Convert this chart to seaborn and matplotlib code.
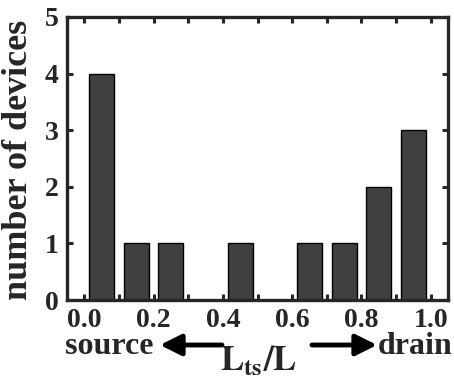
import matplotlib
matplotlib.use("Agg")
import matplotlib.pyplot as plt
import seaborn as sns
import numpy as np
from matplotlib.ticker import MultipleLocator

positions = [0.05, 0.15, 0.25, 0.45, 0.65, 0.75, 0.85, 0.95]
counts = [4, 1, 1, 1, 1, 1, 2, 3]
xtick_vals = [0.0, 0.2, 0.4, 0.6, 0.8, 1.0]
xtick_labels = ["0.0", "0.2", "0.4", "0.6", "0.8", "1.0"]
ytick_vals = [0, 1, 2, 3, 4, 5]

sns.set_style("ticks")
plt.rcParams['font.family'] = ['Liberation Serif', 'DejaVu Serif']
plt.rcParams['font.weight'] = 'bold'
plt.rcParams['mathtext.fontset'] = 'stix'

W, H = 454, 388
fig = plt.figure(figsize=(W / 100, H / 100), dpi=100)
ax = fig.add_axes([67 / W, 1 - 300 / H, (448 - 67) / W, (300 - 17) / H])

sns.barplot(x=positions, y=counts, native_scale=True, width=0.72,
            color="#404040", saturation=1, edgecolor="black", linewidth=1.0, ax=ax)

ax.set_xlim(-0.05, 1.05)
ax.set_ylim(0, 5)
ax.set_xticks(xtick_vals)
ax.set_xticklabels(xtick_labels)
ax.xaxis.set_minor_locator(MultipleLocator(0.1))
ax.set_yticks(ytick_vals)
ax.tick_params(axis='both', which='both', direction='in', top=True, right=True,
               length=4, width=2.2, labelsize=20)
ax.tick_params(axis='x', pad=6)
ax.tick_params(axis='y', pad=6)
for lab in ax.get_xticklabels() + ax.get_yticklabels():
    lab.set_fontweight('bold')
for s in ax.spines.values():
    s.set_linewidth(2.4)
    s.set_visible(True)
ax.set_xlabel("")
ax.set_ylabel("")

fig.text(19 / W, 1 - 160 / H, "number of devices", rotation=90, ha='center', va='center',
         fontsize=26, fontweight='bold')

fig.text(153 / W, 1 - 346 / H, "source", ha='right', va='center', fontsize=23, fontweight='bold')
fig.text(378 / W, 1 - 346 / H, "drain", ha='left', va='center', fontsize=23, fontweight='bold')
fig.text(258 / W, 1 - 370 / H, r"$\mathbf{L_{ts}/L}$", ha='center', va='baseline', fontsize=25)

arrow_kw = dict(arrowstyle='-|>', lw=3.5, mutation_scale=32, color='black', shrinkA=0, shrinkB=0)
fig.add_artist(matplotlib.patches.FancyArrowPatch((222 / W, 1 - 345 / H), (160 / W, 1 - 345 / H),
               transform=fig.transFigure, **arrow_kw))
fig.add_artist(matplotlib.patches.FancyArrowPatch((312 / W, 1 - 345 / H), (377 / W, 1 - 345 / H),
               transform=fig.transFigure, **arrow_kw))

fig.savefig("out.png", dpi=100)
